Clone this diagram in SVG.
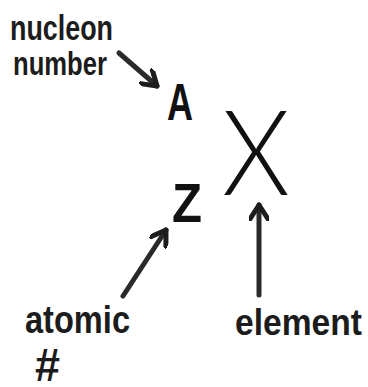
<svg xmlns="http://www.w3.org/2000/svg" width="368" height="387" viewBox="0 0 368 387">
<defs>
<style>
.lbl{font-family:"Liberation Sans",Arial,sans-serif;font-weight:bold;fill:#1c1c1c}
.sym{font-family:"Liberation Sans",Arial,sans-serif;fill:#111}
.con{stroke:#2a2a2a;stroke-width:5;stroke-linecap:round;fill:none}
</style>
<marker id="ah" viewBox="-16 -10 20 20" markerWidth="20" markerHeight="20" refX="0" refY="0" orient="auto" markerUnits="userSpaceOnUse">
<path d="M-14,-9 L0,0 L-14,9" fill="none" stroke="#1c1c1c" stroke-width="5" stroke-linecap="round" stroke-linejoin="round"/>
</marker>
</defs>
<rect width="368" height="387" fill="#fff"/>
<g id="nucleon-number">
<text class="lbl" x="10" y="40" font-size="35" textLength="103" lengthAdjust="spacingAndGlyphs">nucleon</text>
<text class="lbl" x="13" y="75" font-size="33" textLength="94" lengthAdjust="spacingAndGlyphs">number</text>
</g>
<g id="A">
<text class="sym" x="167" y="120" font-size="52" font-weight="bold" textLength="26" lengthAdjust="spacingAndGlyphs">A</text>
</g>
<g id="X">
<text x="222" y="195" font-size="118" textLength="68" lengthAdjust="spacingAndGlyphs" style="font-family:Lato,'Open Sans',sans-serif;font-weight:300;fill:#111">X</text>
</g>
<g id="Z">
<text class="sym" x="172" y="222" font-size="56" font-weight="bold" textLength="30" lengthAdjust="spacingAndGlyphs">Z</text>
</g>
<g id="atomic">
<text class="lbl" x="25" y="333" font-size="38" textLength="105" lengthAdjust="spacingAndGlyphs">atomic</text>
<text class="lbl" x="35" y="381" font-size="46" textLength="25" lengthAdjust="spacingAndGlyphs">#</text>
</g>
<g id="element">
<text class="lbl" x="235" y="335" font-size="36" textLength="127" lengthAdjust="spacingAndGlyphs">element</text>
</g>
<g id="connectors">
<line class="con" x1="119" y1="53" x2="157" y2="86" marker-end="url(#ah)"/>
<line class="con" x1="123" y1="296" x2="166" y2="230" marker-end="url(#ah)"/>
<line class="con" x1="259" y1="295" x2="259" y2="205" marker-end="url(#ah)"/>
</g>
</svg>
